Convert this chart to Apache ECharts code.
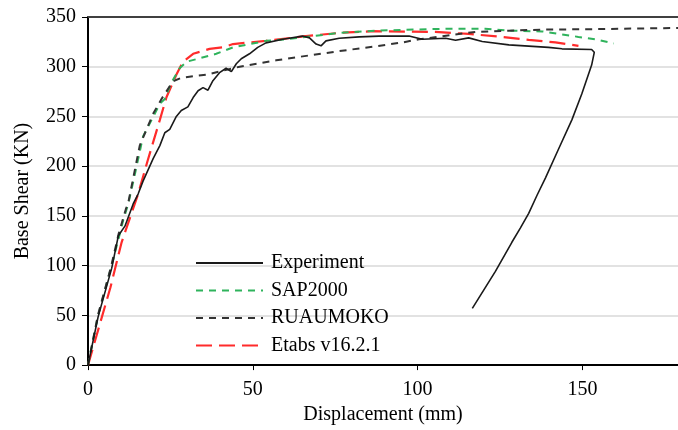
<!DOCTYPE html>
<html>
<head>
<meta charset="utf-8">
<script src="https://cdn.jsdelivr.net/npm/echarts@6/dist/echarts.min.js"></script>
<style>html,body{margin:0;padding:0;background:#fff;}#c{width:678px;height:430px;}</style>
</head>
<body>
<div id="c"></div>
<script>
// Experiment (mm, kN)
var expX = [0,3.1,7.2,9.2,11.2,13.7,15.2,16.7,19.8,21.8,23.3,24.8,26.8,28.3,30.3,31.9,33.4,34.9,36.4,37.9,39.9,41.9,43.5,45,46.5,49,51.5,54,59.1,65.1,67.2,69.2,70.7,72.2,76.2,82.3,88.3,97.4,101.4,108.5,111.5,115.5,119.6,127.7,139.7,143.8,152.8,153.6,152.8,149.8,146.8,142.8,138.8,136.2,133.7,131.2,128.6,123.6,116.6];
var expY = [0,49,97.5,130,139.7,162,172,185,207.8,220.7,233.6,237,250,256,259.6,269,275.8,279,276.4,286,294,298.5,295,303,308,313,319.5,324,327.6,330.8,329,322.8,321,326,328.6,330,330.8,330.8,327.6,328.6,326.7,329,325.4,322,319.5,318,317.3,314.5,301.7,272.5,246.6,217.5,188.3,170.5,152.6,138,123.5,94.3,57];
// SAP2000
var sapX = [0,3,7,9.5,10.7,12.2,14.2,16.7,19.3,21.8,23.3,25.3,27.8,29.9,33.9,38.9,44,54,60.1,76.2,87.3,109.5,120.5,127.7,137.8,143.8,148.8,153.9,159.5];
var sapY = [0,49,98,130,146,162,191.5,230,246.6,262.8,267.6,284,298.5,305,308.5,313,319.5,326,327.6,334,336.3,338.3,338.3,336.3,335.5,332.5,330,327.6,323.4];
// RUAUMOKO
var ruaX = [0,3,7,9.3,11.5,12.2,15.7,19.8,22.3,25.8,28.3,31.9,35.9,46,57.1,67.2,76.2,87.3,95.4,100.4,110.5,117.6,127.7,137.8,153.9,179];
var ruaY = [0,50,99,132,157,163,220.7,253,267.6,285.5,288.7,290.4,292,300,306.5,311.4,315.7,320.5,324.4,327.6,332,335,336.3,337.3,337.8,339];
// Etabs v16.2.1
var etaX = [0,6.8,10.2,13.2,15.2,18,21.8,23.8,26.8,28.8,31.9,36.9,40.9,44,54,66.1,76.2,86.3,105.4,115.5,125.6,133.7,141.8,148.8];
var etaY = [0,78,123.5,152.6,172,204.5,246.6,269.3,292,305,313,318,319.5,322.8,326,330.8,334,335.7,335,333,330,327,324.4,321];

var seriesNames = ['Experiment','SAP2000','RUAUMOKO','Etabs v16.2.1'];
var xTicks = [0,50,100,150];

function zip(xs, ys){ return xs.map(function(x,i){ return [x, ys[i]]; }); }

var font = 'Liberation Serif';
var chart = echarts.init(document.getElementById('c'), null, {renderer:'canvas'});
chart.setOption({
  animation: false,
  backgroundColor: '#fff',
  textStyle: {fontFamily: font},
  grid: {left: 88, right: 0, top: 17, bottom: 53, containLabel: false},
  legend: {
    orient: 'vertical', left: 195, top: 253, padding: 0,
    itemWidth: 67, itemHeight: 14, itemGap: 7.5,
    data: seriesNames,
    itemStyle: {opacity: 0},
    textStyle: {fontFamily: font, fontSize: 20, color: '#000', padding: [0,0,0,3]}
  },
  xAxis: [{
    type: 'value', min: 0, max: 179, interval: 50,
    name: 'Displacement (mm)', nameLocation: 'middle', nameGap: 27,
    nameTextStyle: {fontFamily: font, fontSize: 20, color: '#000'},
    axisLine: {show: true, onZero: false, lineStyle: {color: '#000', width: 2}},
    axisTick: {show: true, length: 5, customValues: xTicks, lineStyle: {color: '#000', width: 1}},
    axisLabel: {customValues: xTicks, fontFamily: font, fontSize: 20, color: '#000', margin: 15},
    splitLine: {show: false}
  }, {
    type: 'value', position: 'top', min: 0, max: 179,
    axisLine: {show: true, onZero: false, lineStyle: {color: '#404040', width: 2}},
    axisTick: {show: false}, axisLabel: {show: false}, splitLine: {show: false}
  }],
  yAxis: {
    type: 'value', min: 0, max: 350, interval: 50,
    name: 'Base Shear (KN)', nameLocation: 'middle', nameGap: 55,
    nameTextStyle: {fontFamily: font, fontSize: 20, color: '#000'},
    axisLine: {show: true, lineStyle: {color: '#000', width: 2}},
    axisTick: {show: true, length: 6, lineStyle: {color: '#000', width: 1}},
    axisLabel: {fontFamily: font, fontSize: 20, color: '#000', margin: 12},
    splitLine: {show: true, lineStyle: {color: '#d9d9d9', width: 1.5}}
  },
  series: [
    {name: seriesNames[0], type: 'line', data: zip(expX, expY), symbol: 'none', smooth: false,
     lineStyle: {color: '#1a1a1a', width: 1.6, type: 'solid'}, itemStyle: {color: '#1a1a1a'}, z: 5},
    {name: seriesNames[1], type: 'line', data: zip(sapX, sapY), symbol: 'none',
     lineStyle: {color: '#2fb35c', width: 2, type: [7, 6]}, itemStyle: {color: '#2fb35c'}, z: 3},
    {name: seriesNames[2], type: 'line', data: zip(ruaX, ruaY), symbol: 'none',
     lineStyle: {color: '#333333', width: 2, type: [7, 6]}, itemStyle: {color: '#333333'}, z: 4},
    {name: seriesNames[3], type: 'line', data: zip(etaX, etaY), symbol: 'none',
     lineStyle: {color: '#ff2b2b', width: 2.2, type: [16, 7]}, itemStyle: {color: '#ff2b2b'}, z: 2}
  ]
});
</script>
</body>
</html>
